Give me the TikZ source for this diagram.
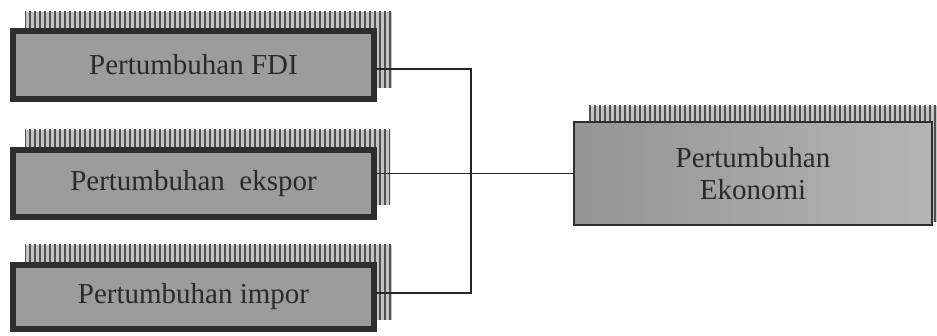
\documentclass[tikz,border=0pt]{standalone}
\usepackage{fontspec}
\setmainfont{Liberation Serif}
\usetikzlibrary{patterns.meta}
\definecolor{boxfill}{HTML}{9C9C9C}
\definecolor{boxedge}{HTML}{2E2E2E}
\definecolor{txt}{HTML}{2A2A2A}
\definecolor{stripeA}{HTML}{505050}
\definecolor{stripeB}{HTML}{C4C4C4}
\begin{document}
\begin{tikzpicture}[x=1pt,y=-1pt,
  hatchbox/.style={draw=none, preaction={fill=stripeB},
    pattern={Lines[angle=90,distance=5pt,line width=2.6pt]}, pattern color=stripeA},
  mainbox/.style={draw=boxedge, line width=6pt, fill=boxfill, text=txt,
    font=\fontsize{29}{33}\selectfont, inner sep=0pt},
  ekobox/.style={draw=boxedge, line width=2pt, left color=boxfill!95!black, right color=boxfill!75!white, text=txt,
    font=\fontsize{29}{33}\selectfont, inner sep=0pt, align=center},
  wire/.style={draw=black!85, line width=1.5pt}]
\useasboundingbox (0,0) rectangle (937,336);
% shadows
\path[hatchbox] (25,12) rectangle (392,88);
\path[hatchbox] (25,130) rectangle (390,205);
\path[hatchbox] (25,245) rectangle (392,320);
\path[hatchbox] (589,106) rectangle (937,222);
% main boxes
\node[mainbox, minimum width=361pt, minimum height=68pt] (fdi) at (193.5,65) {Pertumbuhan FDI};
\node[mainbox, minimum width=361pt, minimum height=67pt] (ekspor) at (193.5,183.5) {Pertumbuhan\ \ ekspor};
\node[mainbox, minimum width=361pt, minimum height=64pt] (impor) at (193.5,297) {Pertumbuhan impor};
\node[ekobox, minimum width=358pt, minimum height=103pt] (eko) at (753,173.5) {Pertumbuhan\\[-1pt]Ekonomi};
% connectors
\coordinate (jtop) at (471,69);
\coordinate (jbot) at (471,293);
\draw[wire] (fdi.east |- jtop) -- (jtop) -- (jbot) -- (impor.east |- jbot);
\draw[wire] (ekspor.east |- eko.west) -- (eko.west);
\end{tikzpicture}
\end{document}
